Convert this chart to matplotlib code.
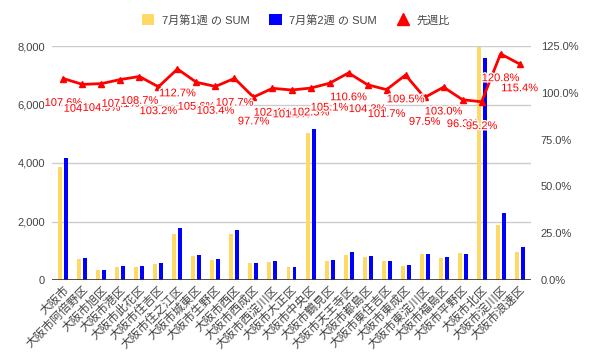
import numpy as np
import matplotlib.pyplot as plt
from matplotlib.patches import Patch
from matplotlib.lines import Line2D
from matplotlib.ticker import FuncFormatter
import matplotlib.patheffects as pe

plt.rcParams['font.family'] = ['Liberation Sans', 'Noto Sans CJK JP', 'DejaVu Sans']

wards = ['大阪市', '大阪市阿倍野区', '大阪市旭区', '大阪市港区', '大阪市此花区',
         '大阪市住吉区', '大阪市住之江区', '大阪市城東区', '大阪市生野区', '大阪市西区',
         '大阪市西成区', '大阪市西淀川区', '大阪市大正区', '大阪市中央区', '大阪市鶴見区',
         '大阪市天王寺区', '大阪市都島区', '大阪市東住吉区', '大阪市東成区', '大阪市東淀川区',
         '大阪市福島区', '大阪市平野区', '大阪市北区', '大阪市淀川区', '大阪市浪速区']
week1 = [3863, 710, 340, 448, 448, 552, 1586, 814, 690, 1586, 586, 620, 448, 5030,
         655, 862, 793, 655, 483, 897, 759, 931, 7960, 1883, 966]
week2 = [4157, 742, 357, 480, 487, 570, 1787, 860, 713, 1708, 573, 635, 455, 5156,
         688, 953, 827, 666, 529, 875, 782, 897, 7578, 2275, 1115]
ratio = [107.6, 104.5, 104.9, 107.1, 108.7, 103.2, 112.7, 105.6, 103.4, 107.7,
         97.7, 102.4, 101.5, 102.5, 105.1, 110.6, 104.3, 101.7, 109.5, 97.5,
         103.0, 96.3, 95.2, 120.8, 115.4]

c_yel = '#FFD966'
c_blu = '#0000FF'
c_red = '#FF0000'
c_txt = '#444444'

fig = plt.figure(figsize=(5.93, 3.61), dpi=100)
ax = fig.add_axes([52 / 593, 1 - 280 / 361, 479 / 593, 234 / 361])
ax2 = ax.twinx()

x = np.arange(len(wards))
ax.bar(x - 0.158, week1, width=0.21, color=c_yel, zorder=2)
ax.bar(x + 0.158, week2, width=0.21, color=c_blu, zorder=2)

ax.set_xlim(-0.6, len(wards) - 0.4)
ax.set_ylim(0, 8000)
ax.set_yticks([0, 2000, 4000, 6000, 8000])
ax.yaxis.set_major_formatter(FuncFormatter(lambda v, p: f'{int(v):,}'))
ax.grid(axis='y', color='#cccccc', linewidth=1, zorder=0)
ax.set_axisbelow(True)
ax.axhline(0, color='#333333', linewidth=1.2, zorder=3)
for s in ax.spines.values():
    s.set_visible(False)
for s in ax2.spines.values():
    s.set_visible(False)
ax.tick_params(axis='y', length=0, pad=5, labelsize=8, labelcolor=c_txt)
ax.tick_params(axis='x', length=0, pad=3)
ax.set_xticks(x)
ax.set_xticklabels(wards, rotation=45, ha='right', va='top', rotation_mode='anchor',
                   fontsize=8.5, color=c_txt)

ax2.plot(x, [r / 100 for r in ratio], color=c_red, linewidth=2, marker='^',
         markersize=5, zorder=5)
ax2.set_ylim(0, 1.25)
ax2.set_yticks([0, 0.25, 0.5, 0.75, 1.0, 1.25])
ax2.yaxis.set_major_formatter(FuncFormatter(lambda v, p: f'{v * 100:.1f}%'))
ax2.tick_params(axis='y', length=0, pad=7, labelsize=8, labelcolor=c_txt)

for i, r in enumerate(ratio):
    ax2.annotate(f'{r:.1f}%', (i, r / 100), xytext=(0, -17.5), textcoords='offset points',
                 ha='center', va='center', fontsize=8, color=c_red,
                 path_effects=[pe.withStroke(linewidth=2, foreground='white')], zorder=6)

handles = [Patch(facecolor=c_yel, edgecolor='none'),
           Patch(facecolor=c_blu, edgecolor='none'),
           Line2D([], [], color=c_red, marker='^', linestyle='none', markersize=8)]
fig.legend(handles, ['7月第1週 の SUM', '7月第2週 の SUM', '先週比'],
           loc='center', bbox_to_anchor=(296 / 593, 1 - 20 / 361), ncol=3, frameon=False,
           fontsize=8, labelcolor=c_txt, handlelength=1.1, handleheight=1.1,
           handletextpad=0.7, columnspacing=1.8)

fig.savefig('out.png', dpi=100)
